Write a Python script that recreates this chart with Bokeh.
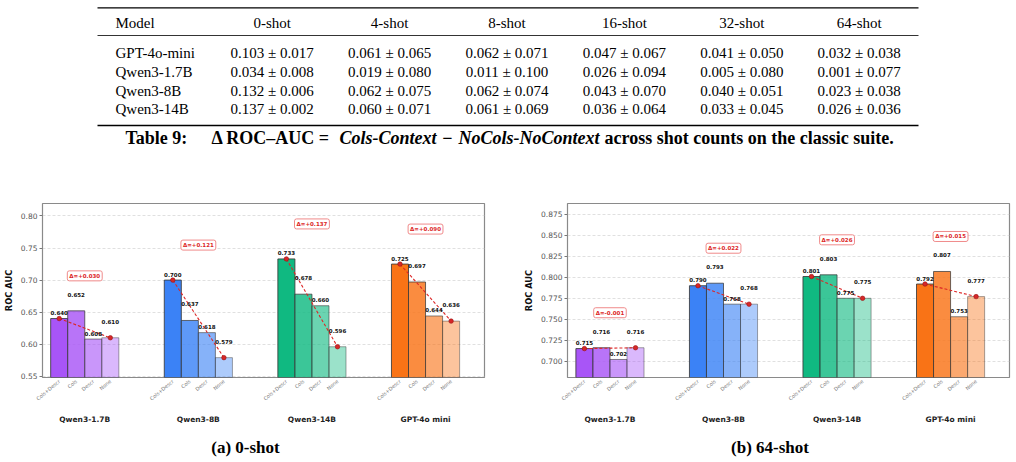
from bokeh.plotting import figure
from bokeh.layouts import column, row
from bokeh.models import Range1d, FixedTicker, LinearAxis, ColumnDataSource, NumeralTickFormatter
from bokeh.core.properties import value
from bokeh.embed import file_html
from bokeh.resources import INLINE

# ---------------- data ----------------
table_models = ["GPT-4o-mini", "Qwen3-1.7B", "Qwen3-8B", "Qwen3-14B"]
shot_headers = ["0-shot", "4-shot", "8-shot", "16-shot", "32-shot", "64-shot"]
delta_means = [
    [0.103, 0.061, 0.062, 0.047, 0.041, 0.032],
    [0.034, 0.019, 0.011, 0.026, 0.005, 0.001],
    [0.132, 0.062, 0.062, 0.043, 0.040, 0.023],
    [0.137, 0.060, 0.061, 0.036, 0.033, 0.026],
]
delta_stds = [
    [0.017, 0.065, 0.071, 0.067, 0.050, 0.038],
    [0.008, 0.080, 0.100, 0.094, 0.080, 0.077],
    [0.006, 0.075, 0.074, 0.070, 0.051, 0.038],
    [0.002, 0.071, 0.069, 0.064, 0.045, 0.036],
]

groups = ["Qwen3-1.7B", "Qwen3-8B", "Qwen3-14B", "GPT-4o mini"]
conditions = ["Cols+Descr", "Cols", "Descr", "None"]
auc_0shot = [
    [0.640, 0.652, 0.608, 0.610],
    [0.700, 0.637, 0.618, 0.579],
    [0.733, 0.678, 0.660, 0.596],
    [0.725, 0.697, 0.644, 0.636],
]
auc_64shot = [
    [0.715, 0.716, 0.702, 0.716],
    [0.790, 0.793, 0.768, 0.768],
    [0.801, 0.803, 0.775, 0.775],
    [0.792, 0.807, 0.753, 0.777],
]
delta_0shot = ["Δ=+0.030", "Δ=+0.121", "Δ=+0.137", "Δ=+0.090"]
delta_64shot = ["Δ=-0.001", "Δ=+0.022", "Δ=+0.026", "Δ=+0.015"]
yticks_0shot = [0.55, 0.60, 0.65, 0.70, 0.75, 0.80]
yticks_64shot = [0.700, 0.725, 0.750, 0.775, 0.800, 0.825, 0.850, 0.875]

group_colors = ["#a855f7", "#3b82f6", "#10b981", "#f97316"]
cond_alpha = [1.0, 0.82, 0.62, 0.42]
edge_alpha = [0.85, 0.75, 0.6, 0.45]
BAR_W = 0.15

SERIF = value("Liberation Serif")
SANS = "DejaVu Sans"

# ---------------- table figure ----------------
T = figure(width=1016, height=185, x_range=Range1d(0, 1016), y_range=Range1d(185, 0),
           toolbar_location=None, output_backend="svg", x_axis_location=None,
           y_axis_location=None, min_border=0)
T.grid.visible = False
T.outline_line_color = None

T.segment(x0=[97], y0=[7.3], x1=[918], y1=[7.3], line_color="black", line_width=1.3)
T.segment(x0=[97], y0=[35], x1=[918], y1=[35], line_color="black", line_width=0.8)
T.segment(x0=[97], y0=[125], x1=[918], y1=[125], line_color="black", line_width=1.3)

col_x = [271.7 + 117.4 * k for k in range(len(shot_headers))]
row_y = [52.7 + 18.7 * r for r in range(len(table_models))]
T.text(x=[115], y=[22.7], text=["Model"], text_align="left", text_baseline="middle",
       text_font=SERIF, text_font_size="15px", text_color="black")
T.text(x=col_x, y=[22.7] * len(col_x), text=shot_headers, text_align="center",
       text_baseline="middle", text_font=SERIF, text_font_size="15px", text_color="black")
T.text(x=[115] * len(table_models), y=row_y, text=table_models, text_align="left",
       text_baseline="middle", text_font=SERIF, text_font_size="15px", text_color="black")
cx, cy, ct = [], [], []
for r in range(len(table_models)):
    for k in range(len(shot_headers)):
        cx.append(col_x[k]); cy.append(row_y[r])
        ct.append(f"{delta_means[r][k]:.3f} ± {delta_stds[r][k]:.3f}")
T.text(x=cx, y=cy, text=ct, text_align="center", text_baseline="middle",
       text_font=SERIF, text_font_size="15px", text_color="black")

cap_parts = [
    (125, "Table 9:", "bold", "left"),
    (211, "Δ ROC–AUC =", "bold", "left"),
    (339, "Cols-Context", "bold italic", "left"),
    (447, "−", "bold", "center"),
    (458, "NoCols-NoContext", "bold italic", "left"),
    (604, "across shot counts on the classic suite.", "bold", "left"),
]
for x0, s, st, al in cap_parts:
    T.text(x=[x0], y=[137], text=[s], text_align=al, text_baseline="middle",
           text_font=SERIF, text_font_size="18px", text_font_style=st, text_color="black")


# ---------------- chart figures ----------------
def make_chart(vals, dlabels, yr, yticks, fmt, xr, mleft, mright, mtop, mbottom):
    p = figure(width=508, height=245, x_range=Range1d(*xr), y_range=Range1d(*yr),
               toolbar_location=None, output_backend="svg", x_axis_location=None,
               y_axis_location="left", min_border_left=mleft, min_border_right=mright,
               min_border_top=mtop, min_border_bottom=mbottom)
    p.outline_line_color = "#8a8a8a"
    p.outline_line_width = 1.2
    p.background_fill_color = "white"
    p.xgrid.visible = False
    p.ygrid.ticker = FixedTicker(ticks=yticks)
    p.ygrid.grid_line_color = "#d8d8d8"
    p.ygrid.grid_line_dash = "3 2"
    p.ygrid.grid_line_width = 0.8

    ya = p.yaxis[0]
    ya.ticker = FixedTicker(ticks=yticks)
    ya.formatter = NumeralTickFormatter(format=fmt)
    ya.major_label_text_font = SANS
    ya.major_label_text_font_size = "7.5px"
    ya.major_label_text_color = "#555555"
    ya.major_tick_out = 3
    ya.major_tick_in = 0
    ya.major_tick_line_color = "#777777"
    ya.minor_tick_line_color = None
    ya.axis_line_color = None
    ya.major_label_standoff = 2
    ya.axis_label = "ROC AUC"
    ya.axis_label_text_font = SANS
    ya.axis_label_text_font_style = "bold"
    ya.axis_label_text_font_size = "8.3px"
    ya.axis_label_text_color = "#111111"
    ya.axis_label_standoff = 4

    xs, tops, cols, fa, la, lab, yoff = [], [], [], [], [], [], []
    for i, g in enumerate(groups):
        for j, c in enumerate(conditions):
            x = i + (j - 1.5) * BAR_W
            xs.append(x); tops.append(vals[i][j]); cols.append(group_colors[i])
            fa.append(cond_alpha[j]); la.append(edge_alpha[j])
            lab.append(f"{vals[i][j]:.3f}")
            yoff.append(-6 if j % 2 == 0 else -16.5)
    src = ColumnDataSource(dict(x=xs, top=tops, color=cols, fa=fa, la=la, lab=lab, yoff=yoff))
    p.vbar(x="x", top="top", bottom=0, width=BAR_W, source=src, fill_color="color",
           fill_alpha="fa", line_color="#3a3a3a", line_alpha="la", line_width=1)

    lx, ly = [], []
    for i in range(len(groups)):
        lx.append([i - 1.5 * BAR_W, i + 1.5 * BAR_W])
        ly.append([vals[i][0], vals[i][3]])
    p.multi_line(xs=lx, ys=ly, line_color="#dc2626", line_width=1.1, line_dash="3 2")
    px = [v for pair in lx for v in pair]
    py = [v for pair in ly for v in pair]
    p.scatter(x=px, y=py, size=4.5, fill_color="#d62728", line_color="#9b1111", line_width=0.6)

    p.text(x="x", y="top", text="lab", y_offset="yoff", source=src, text_align="center",
           text_baseline="middle", text_font=value(SANS), text_font_style="bold",
           text_font_size="5.5px", text_color="#111111")

    gmax = [max(v) for v in vals]
    p.text(x=list(range(len(groups))), y=gmax, text=dlabels, y_offset=-35,
           text_align="center", text_baseline="middle", text_font=value(SANS),
           text_font_style="bold", text_font_size="5.5px", text_color="#dc2626",
           background_fill_color="white", border_line_color="#f08a8a",
           border_line_width=1, padding=2, border_radius=2)

    ax1 = LinearAxis(ticker=FixedTicker(ticks=xs),
                     major_label_overrides={x: conditions[k % 4] for k, x in enumerate(xs)})
    ax1.major_label_orientation = 0.7
    ax1.major_label_text_font = SANS
    ax1.major_label_text_font_size = "5px"
    ax1.major_label_text_color = "#777777"
    ax1.major_tick_out = 0
    ax1.major_tick_in = 0
    ax1.minor_tick_line_color = None
    ax1.axis_line_color = None
    ax1.major_label_standoff = 3
    p.add_layout(ax1, "below")

    ax2 = LinearAxis(ticker=FixedTicker(ticks=list(range(len(groups)))),
                     major_label_overrides={i: g for i, g in enumerate(groups)})
    ax2.major_label_text_font = SANS
    ax2.major_label_text_font_style = "bold"
    ax2.major_label_text_font_size = "7.5px"
    ax2.major_label_text_color = "#222222"
    ax2.major_tick_out = 0
    ax2.major_tick_in = 0
    ax2.major_tick_line_color = None
    ax2.minor_tick_line_color = None
    ax2.axis_line_color = None
    ax2.major_label_standoff = 8
    p.add_layout(ax2, "below")
    return p


A = make_chart(auc_0shot, delta_0shot, (0.548, 0.8195), yticks_0shot, "0.00",
               (-0.372, 3.519), 37, 24, 15, 53)
B = make_chart(auc_64shot, delta_64shot, (0.6805, 0.8881), yticks_64shot, "0.000",
               (-0.374, 3.519), 59, 7, 18, 52)

# ---------------- sub-captions ----------------
S = figure(width=1016, height=32, x_range=Range1d(0, 1016), y_range=Range1d(32, 0),
           toolbar_location=None, output_backend="svg", x_axis_location=None,
           y_axis_location=None, min_border=0)
S.grid.visible = False
S.outline_line_color = None
S.text(x=[245, 769.5], y=[16.7, 16.7], text=["(a) 0-shot", "(b) 64-shot"],
       text_align="center", text_baseline="middle", text_font=SERIF,
       text_font_size="17px", text_font_style="bold", text_color="black")

layout = column(T, row(A, B), S)
open("out.html", "w").write(file_html(layout, INLINE))
